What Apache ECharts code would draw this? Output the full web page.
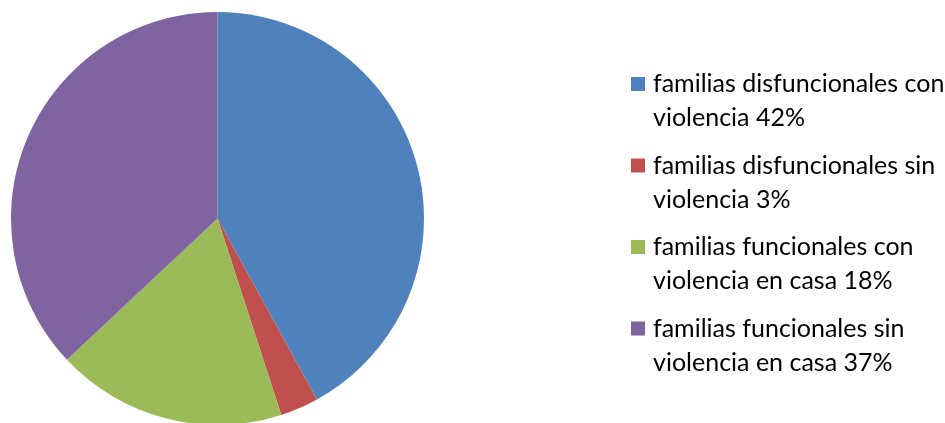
<!DOCTYPE html>
<html>
<head>
<meta charset="utf-8">
<script src="https://cdn.jsdelivr.net/npm/echarts@6/dist/echarts.min.js"></script>
<style>
html,body{margin:0;padding:0;background:#fff;}
#main{width:945px;height:423px;}
</style>
</head>
<body>
<div id="main"></div>
<script>
const categories = [
  'familias disfuncionales con\nviolencia 42%',
  'familias disfuncionales sin\nviolencia 3%',
  'familias funcionales con\nviolencia en casa 18%',
  'familias funcionales sin\nviolencia en casa 37%'
];
const values = [42, 3, 18, 37];
const colors = ['#4F81BD', '#C0504D', '#9BBB59', '#8064A2'];

const chart = echarts.init(document.getElementById('main'));
chart.setOption({
  animation: false,
  color: colors,
  legend: {
    orient: 'vertical',
    left: 631,
    top: 67,
    padding: 0,
    itemGap: 13.5,
    itemWidth: 14,
    itemHeight: 48,
    icon: 'path://M0,0L14,0L14,14L0,14Z M0,48L14,48',
    selectedMode: false,
    data: categories,
    textStyle: {
      fontFamily: 'Lato',
      fontSize: 25,
      lineHeight: 34,
      color: '#000',
      padding: [0, 0, 0, 3]
    },
    itemStyle: { borderWidth: 0 }
  },
  series: [{
    type: 'pie',
    center: [217.5, 218.5],
    radius: 206.5,
    startAngle: 90,
    clockwise: true,
    label: { show: false },
    labelLine: { show: false },
    itemStyle: { borderWidth: 0 },
    emphasis: { disabled: true },
    data: categories.map((c, i) => ({ name: c, value: values[i] }))
  }]
});
</script>
</body>
</html>
